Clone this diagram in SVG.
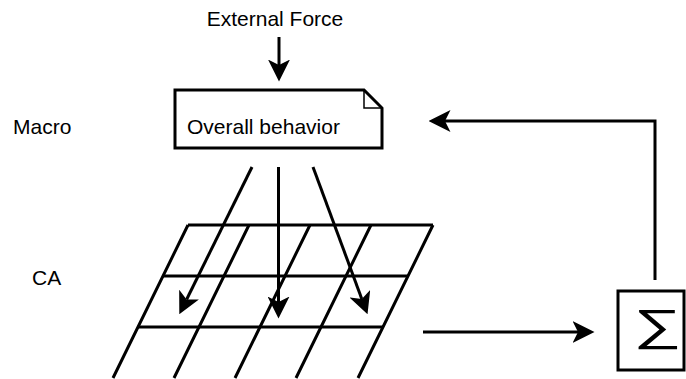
<svg xmlns="http://www.w3.org/2000/svg" width="686" height="379" viewBox="0 0 686 379">
<style>
text{font-family:"Liberation Sans",Arial,sans-serif;fill:#000}
.t{font-size:21px}
.s{fill:none;stroke:#000;stroke-width:3}
.c{fill:none;stroke:#000;stroke-width:3}
</style>
<defs>
<marker id="ah" markerUnits="userSpaceOnUse" markerWidth="22" markerHeight="22" viewBox="0 0 20 20" refX="5" refY="10" orient="auto">
<path d="M0,0 L20,10 L0,20 L5,10 Z" fill="#000"/>
</marker>
</defs>
<rect width="686" height="379" fill="#fff"/>
<g id="label-external"><text class="t" x="275" y="26" text-anchor="middle">External Force</text></g>
<g id="label-macro"><text class="t" x="13" y="134">Macro</text></g>
<g id="label-ca"><text class="t" x="32" y="285">CA</text></g>
<g id="note">
<path class="s" d="M175,90 L364,90 L382,108 L382,148 L175,148 Z"/>
<path d="M364,90 L364,108 L382,108" fill="none" stroke="#000" stroke-width="1.5"/>
<text class="t" x="187" y="134">Overall behavior</text>
</g>
<g id="grid" class="s">
<path class="s" d="M188,225 L433,225 M163,276 L408,276 M138,327 L383,327"/>
<path class="s" d="M188,225 L113,378 M249,225 L174,378 M310,225 L235,378 M371,225 L296,378 M433,225 L358,378"/>
</g>
<g id="sum">
<rect class="s" x="618" y="291" width="66" height="79"/>
<text transform="translate(657.5,339.5) scale(1.4,0.9)" font-size="48" text-anchor="middle">∑</text>
</g>
<g id="connectors" class="c">
<path class="c" d="M279,37 L279,65" marker-end="url(#ah)"/>
<path class="c" d="M252,167 L186.6,299.5" marker-end="url(#ah)"/>
<path class="c" d="M278.5,167 L278.5,302" marker-end="url(#ah)"/>
<path class="c" d="M313,167 L361.8,298.9" marker-end="url(#ah)"/>
<path class="c" d="M423,332 L578,332" marker-end="url(#ah)"/>
<path class="c" d="M655,280 L655,121 L445,121" marker-end="url(#ah)"/>
</g>
</svg>
